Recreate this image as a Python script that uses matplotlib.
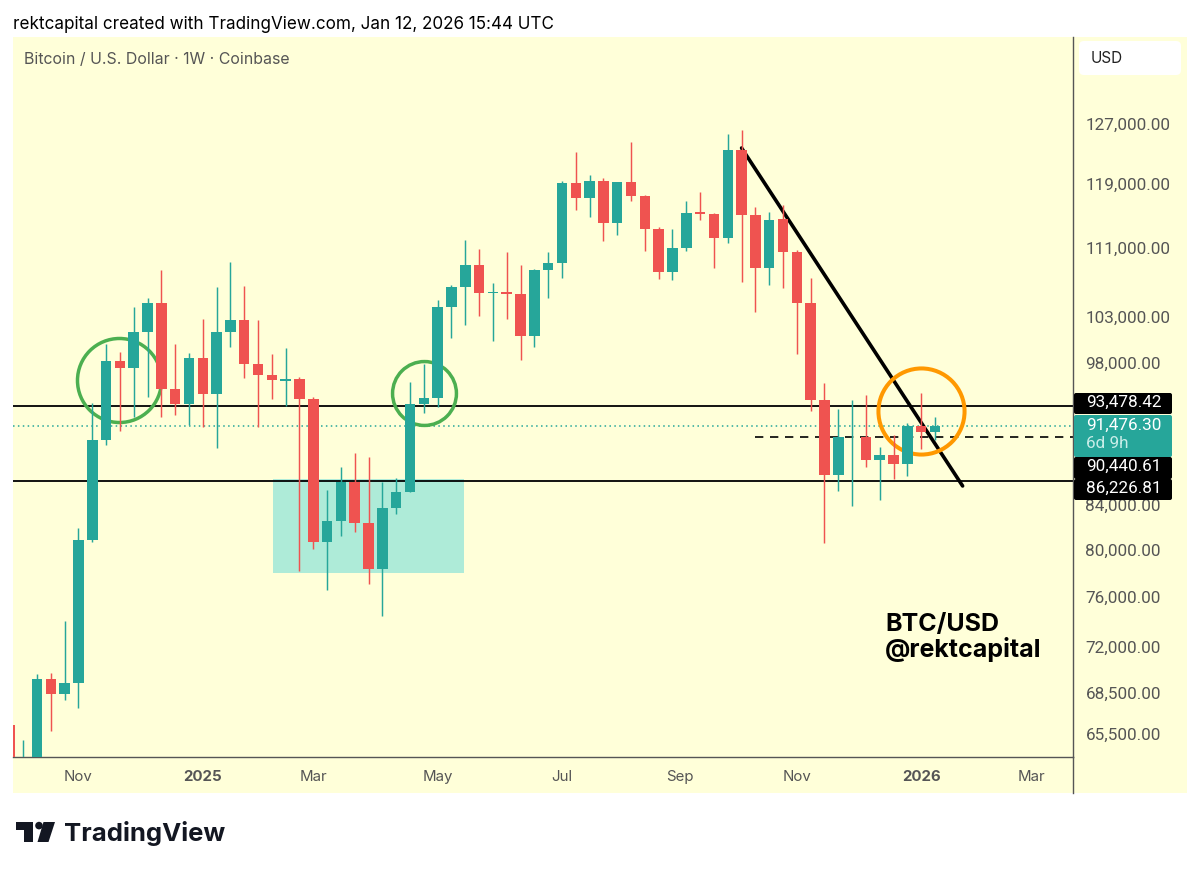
import matplotlib
matplotlib.use("Agg")
import numpy as np
from matplotlib import pyplot as plt
from matplotlib.lines import Line2D
from matplotlib.patches import Rectangle, FancyBboxPatch, Polygon, Circle
from matplotlib.transforms import IdentityTransform

plt.rcParams['font.family'] = ['Inter', 'DejaVu Sans']

# weekly candles, first one is only partly on screen
weeks = np.arange(-2, 66)
opens = [66130, 61000, 62500, 69500, 68395, 69240, 80843, 90113, 98186, 97412, 101293, 104534, 95278, 93707, 98475, 94700, 101293, 102656, 97835, 96674,
         96108, 96255, 94249, 80693, 82528, 86125, 82376, 78363, 83729, 85195, 93707, 94290, 104082, 106436, 109009, 105744, 105790, 105561, 100888, 108383,
         109174, 119081, 117235, 119418, 114094, 119249, 117414, 113354, 108182, 111040, 115390, 115178, 112179, 123426, 115016, 108620, 114554, 110485, 104602, 94115,
         86783, 90380, 90380, 88139, 88631, 87825, 91496, 90870]
closes = [62500, 63500, 69500, 68395, 69240, 80843, 90113, 98186, 97412, 101293, 104534, 95278, 93707, 98475, 94700, 101293, 102656, 97835, 96674, 96182,
          96255, 94249, 80693, 82528, 86125, 82376, 78363, 83729, 85195, 93707, 94290, 104082, 106436, 109009, 105675, 105824, 105561, 100888, 108383, 109174,
          119081, 117235, 119418, 114094, 119249, 117414, 113354, 108182, 111040, 115265, 115215, 112179, 123426, 115016, 108620, 114429, 110485, 104602, 94115, 86783,
          90380, 90439, 88139, 88631, 87825, 91496, 90870, 91476]
highs = [66130, 65060, 69897, 70000, 74061, 81877, 93778, 100016, 99182, 104082, 105172, 108383, 100016, 99075, 102801, 106367, 109363, 106517, 102656, 98936,
         99583, 96527, 94454, 85325, 87483, 88823, 88496, 86125, 86473, 95972, 97867, 104910, 106633, 111972, 110847, 106829, 110557, 108938, 108537, 110557,
         119379, 123157, 120160, 119730, 119288, 124502, 117541, 113526, 113280, 116776, 117961, 115340, 125630, 126217, 116019, 115427, 116347, 110726, 107411, 95899,
         93170, 94115, 94628, 89463, 90576, 91764, 94864, 92394]
lows = [61000, 60000, 61500, 65700, 67950, 67342, 80693, 89657, 90999, 92364, 94454, 92425, 92625, 91595, 91426, 89336, 99659, 96391, 91426, 94218,
        93504, 78193, 80057, 76571, 81169, 81575, 77071, 74464, 83131, 85195, 92826, 93373, 100702, 102133, 103103, 100374, 102735, 98261, 99691, 105104,
        107411, 115679, 114766, 111887, 112618, 116853, 110642, 107329, 107248, 110642, 114429, 108655, 111571, 107014, 103584, 106633, 106251, 98904, 92967, 80605,
        85232, 83857, 87540, 84432, 86407, 86689, 89239, 90113]

# price and time axis
price_ticks = [127000, 119000, 111000, 103000, 98000, 84000, 80000, 76000, 72000, 68500, 65500]
month_pos = [3, 12, 20, 29, 38, 46.5, 55, 64, 72]
month_labels = ["Nov", "2025", "Mar", "May", "Jul", "Sep", "Nov", "2026", "Mar"]

# levels and drawings on the chart
level_top = 93478.42
level_bottom = 86226.81
level_dash = 90440.61
last_price = 91476.30
box_weeks = [17.06, 30.9]
box_prices = [78023, 86400]
trend_weeks = [51, 67]
trend_prices = [123735, 85725]
green_rings = [(5.94, 96182, 60.5), (28.01, 94833, 46)]
orange_ring = (63.99, 92950, 62)

UP = "#26A69A"
DOWN = "#EF5350"
BG = "#FFFFD9"
GREY = "#555555"
W, H = 1200, 872


def px(x, y):
    return x, H - y


fig = plt.figure(figsize=(12, 8.72), dpi=100, facecolor="white")
pix = IdentityTransform()
fig.patches.append(Rectangle(px(13, 793), 1174, 756, transform=pix, fc=BG, ec="none", zorder=-5))

ax = fig.add_axes([13 / W, 1 - 757 / H, 1060 / W, 720 / H], facecolor=BG)
ax.set_yscale("log")
ax.set_xlim(-1.737, 74.99)
ax.set_ylim(63870, 139580)

# drawings go under the candles
ax.axhspan(box_prices[0], box_prices[1], xmin=(box_weeks[0] + 1.737) / 76.727, xmax=(box_weeks[1] + 1.737) / 76.727,
           fc="#AEEBD8", ec="none", zorder=1)
ax.axhline(last_price, color=UP, lw=1.1, ls=(0, (1, 2.2)), zorder=1.5)
ax.axhline(level_top, color="black", lw=1.3, zorder=2)
ax.axhline(level_bottom, color="black", lw=1.3, zorder=2)
ax.plot([52, 75], [level_dash, level_dash], color="black", lw=1.2, ls=(0, (5, 4)), zorder=2)
ax.plot(trend_weeks, trend_prices, color="black", lw=2.6, solid_capstyle="round", zorder=2)
for wk, price, size in green_rings:
    ax.plot([wk], [price], marker="o", ms=size, mfc="none", mec="#4CAF50", mew=2.5, zorder=2.5)
ax.plot([orange_ring[0]], [orange_ring[1]], marker="o", ms=orange_ring[2], mfc="none", mec="#FF9800", mew=2.9, zorder=2.5)

opens = np.array(opens, dtype=float)
closes = np.array(closes, dtype=float)
colors = [UP if c >= o else DOWN for o, c in zip(opens, closes)]
ax.vlines(weeks, lows, highs, colors=colors, lw=1.05, zorder=3)
ax.bar(weeks, np.abs(closes - opens), bottom=np.minimum(opens, closes), width=0.76, color=colors, zorder=4)

for side in ["top", "left"]:
    ax.spines[side].set_visible(False)
for side in ["bottom", "right"]:
    ax.spines[side].set_color(GREY)
    ax.spines[side].set_linewidth(1.0)

ax.yaxis.tick_right()
ax.set_yticks(price_ticks)
ax.set_yticklabels([f"{v:,.2f}" for v in price_ticks], color=GREY, fontsize=12.3, family="Roboto", va="center_baseline")
ax.minorticks_off()
ax.tick_params(axis="y", length=0, pad=9)
ax.set_xticks(month_pos)
ax.set_xticklabels(month_labels, color=GREY, fontsize=10.8)
ax.tick_params(axis="x", length=0, pad=9)
for lab in ax.get_xticklabels():
    if lab.get_text().startswith("20"):
        lab.set_fontweight("bold")

ax.text(885, H - 631, "BTC/USD", transform=pix, fontsize=18, fontweight="bold", color="black", va="baseline")
ax.text(885, H - 657, "@rektcapital", transform=pix, fontsize=18, fontweight="bold", color="black", va="baseline")

# stuff around the plot, in pixels
fig.add_artist(Line2D([1073, 1073], [H - 757, H - 793], transform=pix, color=GREY, lw=1))
fig.text(13, H - 24, "rektcapital created with TradingView.com, Jan 12, 2026 15:44 UTC", transform=pix,
         fontsize=12.3, color="black", va="center")
fig.text(24, H - 59, "Bitcoin / U.S. Dollar · 1W · Coinbase", transform=pix, fontsize=11.45, color=GREY, va="center")
fig.add_artist(FancyBboxPatch((1079, H - 75), 102, 34, boxstyle="round,pad=0,rounding_size=5", transform=pix, fc="white", ec="none"))
fig.text(1091, H - 58, "USD", transform=pix, fontsize=11, color="#222222", va="center")


def price_box(y0, y1, color):
    fig.add_artist(FancyBboxPatch((1074, H - y1), 98, y1 - y0, boxstyle="round,pad=0,rounding_size=2", transform=pix, fc=color, ec="none"))


price_box(393, 414, "black")
price_box(415, 457, UP)
price_box(457, 479, "black")
price_box(479, 500, "black")
fig.text(1086, H - 402.5, f"{level_top:,.2f}", transform=pix, fontsize=12.3, family="Roboto", color="white", va="center")
fig.text(1086, H - 425, f"{last_price:,.2f}", transform=pix, fontsize=12.3, family="Roboto", color="white", va="center")
fig.text(1086, H - 443, "6d 9h", transform=pix, fontsize=12.3, family="Roboto", color="#C8EDE8", va="center")
fig.text(1086, H - 466, f"{level_dash:,.2f}", transform=pix, fontsize=12.3, family="Roboto", color="white", va="center")
fig.text(1086, H - 488, f"{level_bottom:,.2f}", transform=pix, fontsize=12.3, family="Roboto", color="white", va="center")

# TradingView logo
LOGO = "#131722"
fig.add_artist(Polygon([px(16, 822), px(32.5, 822), px(32.5, 842), px(23.5, 842), px(23.5, 830), px(16, 830)], transform=pix, fc=LOGO, ec="none"))
fig.add_artist(Circle(px(39, 825.6), 3.8, transform=pix, fc=LOGO, ec="none"))
fig.add_artist(Polygon([px(43.5, 822), px(55, 822), px(48.5, 842), px(37.5, 842)], transform=pix, fc=LOGO, ec="none"))
fig.text(64, H - 833, "TradingView", transform=pix, fontsize=18.5, fontweight="bold", color=LOGO, va="center")

plt.savefig("out.png", dpi=100)
